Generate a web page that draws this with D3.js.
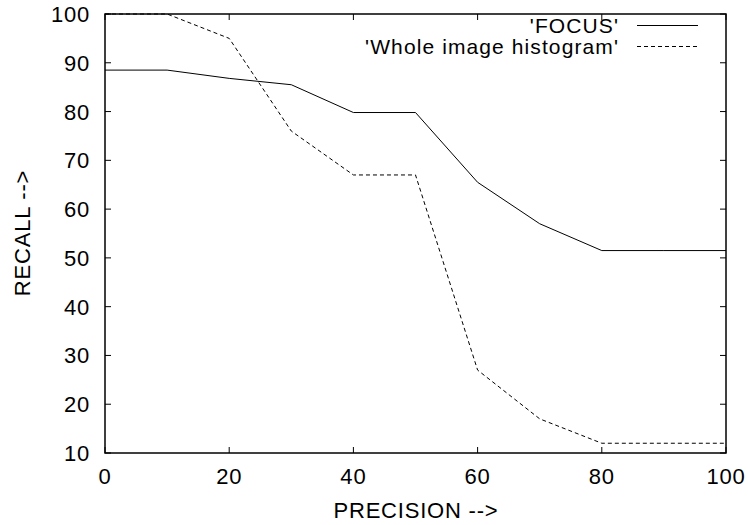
<!DOCTYPE html>
<html>
<head>
<meta charset="utf-8">
<script src="https://cdn.jsdelivr.net/npm/d3@7"></script>
<style>
  body { margin: 0; background: #fff; }
  svg { display: block; }
  text { font-family: "Liberation Sans", Arial, sans-serif; fill: #000; }
</style>
</head>
<body>
<svg id="chart" width="748" height="525"></svg>
<script>
const precision = [0, 10, 20, 30, 40, 50, 60, 70, 80, 90, 100];
const focusRecall = [88.5, 88.5, 86.8, 85.5, 79.8, 79.8, 65.5, 57.0, 51.5, 51.5, 51.5];
const wholeRecall = [100, 100, 95, 76, 67, 67, 27, 17, 12, 12, 12];
const xTicks = [0, 20, 40, 60, 80, 100];
const yTicks = [10, 20, 30, 40, 50, 60, 70, 80, 90, 100];
const seriesNames = ["'FOCUS'", "'Whole image histogram'"];
const xTitle = "PRECISION -->";
const yTitle = "RECALL -->";

const svg = d3.select("#chart");
const L = 105, R = 726, T = 14, B = 453;
const x = d3.scaleLinear().domain([0, 100]).range([L, R]);
const y = d3.scaleLinear().domain([10, 100]).range([B, T]);
const fs = 22, ls = 0.8;

// ticks (inward, on all four sides)
const tk = 6;
const g = svg.append("g").attr("stroke", "#000").attr("stroke-width", 1);
xTicks.forEach(v => {
  g.append("line").attr("x1", x(v)).attr("x2", x(v)).attr("y1", B).attr("y2", B - tk);
  g.append("line").attr("x1", x(v)).attr("x2", x(v)).attr("y1", T).attr("y2", T + tk);
});
yTicks.forEach(v => {
  g.append("line").attr("x1", L).attr("x2", L + tk).attr("y1", y(v)).attr("y2", y(v));
  g.append("line").attr("x1", R).attr("x2", R - tk).attr("y1", y(v)).attr("y2", y(v));
});

// tick labels
svg.append("g").selectAll("text").data(xTicks).join("text")
  .attr("x", d => x(d)).attr("y", 484).attr("text-anchor", "middle")
  .attr("font-size", fs).attr("letter-spacing", ls).text(d => d);
svg.append("g").selectAll("text").data(yTicks).join("text")
  .attr("x", 90).attr("y", d => y(d) + 8).attr("text-anchor", "end")
  .attr("font-size", fs).attr("letter-spacing", ls).text(d => d);

// axis titles
svg.append("text").attr("x", 416).attr("y", 518).attr("text-anchor", "middle")
  .attr("font-size", fs).attr("letter-spacing", ls).text(xTitle);
svg.append("text").attr("transform", "translate(30,233) rotate(-90)")
  .attr("text-anchor", "middle").attr("font-size", fs).attr("letter-spacing", ls).text(yTitle);

// lines
const line = d3.line().x((d, i) => x(precision[i])).y(d => y(d));
svg.append("path").datum(focusRecall).attr("d", line)
  .attr("fill", "none").attr("stroke", "#000").attr("stroke-width", 1);
svg.append("path").datum(wholeRecall).attr("d", line)
  .attr("fill", "none").attr("stroke", "#000").attr("stroke-width", 1)
  .attr("stroke-dasharray", "4,3");

// legend
const legY = [25.5, 46.5];
const dashes = [null, "4,3"];
seriesNames.forEach((n, i) => {
  svg.append("text").attr("x", 619).attr("y", legY[i] + 7.5).attr("text-anchor", "end")
    .attr("font-size", 21).attr("letter-spacing", 1.1).text(n);
  svg.append("line").attr("x1", 637).attr("x2", 698).attr("y1", legY[i]).attr("y2", legY[i])
    .attr("stroke", "#000").attr("stroke-width", 1)
    .attr("stroke-dasharray", dashes[i]);
});

// frame
svg.append("rect").attr("x", L).attr("y", T).attr("width", R - L).attr("height", B - T)
  .attr("fill", "none").attr("stroke", "#000").attr("stroke-width", 1.5);
</script>
</body>
</html>
